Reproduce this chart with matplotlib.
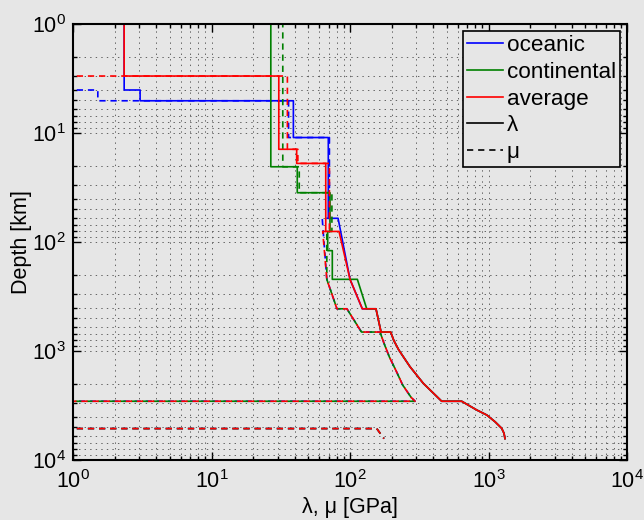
import numpy as np
import matplotlib
matplotlib.use('Agg')
import matplotlib.pyplot as plt
from matplotlib.lines import Line2D

plt.rcParams['font.family'] = ['Liberation Sans', 'DejaVu Sans']
plt.rcParams['mathtext.fontset'] = 'custom'
plt.rcParams['mathtext.rm'] = 'Liberation Sans'
plt.rcParams['lines.scale_dashes'] = False

# ---- data: depth [km] vs Lame parameters [GPa] ----
# shared deep structure (mantle + core)
deep_depth_lam = [220, 410, 410, 670, 670, 800, 979, 1393, 1979, 2891, 2891, 3477, 3865, 4454, 5119, 5689, 6371]
deep_lam = [100, 122.7, 154, 167.5, 196.7, 207, 225, 271, 338, 459, 640, 822, 971, 1114, 1245, 1294, 1315]
deep_depth_mu = [220, 410, 410, 670, 670, 850, 1128, 1517, 2051, 2660, 2891, 2891, 5150, 5150, 6371]
deep_mu = [68, 80.5, 95, 121, 164.7, 176, 192, 215, 240, 276, 295, 0, 0, 156, 176]

# oceanic
oce_depth_lam = [0, 4.03, 4.03, 5.06, 5.06, 11.0, 11.0, 60.6, 60.6]
oce_lam = [2.34, 2.34, 3.05, 3.05, 39, 39, 69.7, 69.7, 82]
oce_depth_mu = [0, 4.03, 4.03, 5.06, 5.06, 11.0, 11.0, 60.6, 60.6]
oce_mu = [0, 0, 1.51, 1.51, 36, 36, 71, 71, 63]

# continental
con_depth_lam = [0, 20.4, 20.4, 35.3, 35.3, 80, 80, 120, 120, 220, 220]
con_lam = [26.8, 26.8, 41.6, 41.6, 71.7, 71.7, 69, 69, 74.5, 74.5, 113]
con_depth_lam2 = [410, 410, 670, 670, 800, 979, 1393, 1979, 2891, 2891, 3477, 3865, 4454, 5119, 5689, 6371]
con_lam2 = [132, 154, 167.5, 196.7, 207, 225, 271, 338, 459, 640, 822, 971, 1114, 1245, 1294, 1315]
con_depth_mu = [0, 20.4, 20.4, 35.3, 35.3, 80, 80]
con_mu = [32.7, 32.7, 43, 43, 74, 74, 68]

# average
avg_depth_lam = [0, 3, 3, 14.1, 14.1, 19, 19, 80, 80]
avg_lam = [2.34, 2.34, 30.6, 30.6, 41.2, 41.2, 66.8, 66.8, 83.3]
avg_depth_mu = [0, 3, 3, 14.1, 14.1, 19, 19, 80, 80]
avg_mu = [0, 0, 35.3, 35.3, 42, 42, 71, 71, 63.5]

models = [
    ('oceanic', 'b', oce_lam + deep_lam, oce_depth_lam + deep_depth_lam,
     oce_mu + deep_mu, oce_depth_mu + deep_depth_mu),
    ('continental', (0, 0.5, 0), con_lam + con_lam2, con_depth_lam + con_depth_lam2,
     con_mu + deep_mu, con_depth_mu + deep_depth_mu),
    ('average', 'r', avg_lam + deep_lam, avg_depth_lam + deep_depth_lam,
     avg_mu + deep_mu, avg_depth_mu + deep_depth_mu),
]

bg = '#e6e6e6'
fig = plt.figure(figsize=(6.44, 5.2), dpi=100, facecolor=bg)
ax = fig.add_axes([0.1134, 0.1154, 0.8602, 0.8384], facecolor=bg)

for name, col, lam, dl, mu, dm in models:
    ax.plot(lam, dl, color=col, lw=1.2)
    ax.plot(mu, dm, color=col, lw=1.2, ls='--', dashes=(4.5, 3.5))

ax.set_xscale('log')
ax.set_yscale('log')
ax.set_xlim(1, 1e4)
ax.set_ylim(1e4, 1)

ax.grid(True, which='both', color='0.3', lw=0.6, ls=(0, (1, 3)))
ax.tick_params(which='both', direction='in', top=True, right=True, labelsize=15.5, width=1.0)
ax.tick_params(which='major', length=6)
ax.tick_params(which='minor', length=3)
ax.tick_params(axis='x', which='major', pad=7)
ax.tick_params(axis='y', which='major', pad=5)
for s in ax.spines.values():
    s.set_linewidth(1.5)

ax.set_xlabel('λ, μ [GPa]', fontsize=15.5, labelpad=3)
ax.set_ylabel('Depth [km]', fontsize=15.5, labelpad=0)

handles = [Line2D([], [], color='b', lw=1.2),
           Line2D([], [], color=(0, 0.5, 0), lw=1.2),
           Line2D([], [], color='r', lw=1.2),
           Line2D([], [], color='k', lw=1.2),
           Line2D([], [], color='k', lw=1.2, ls='--', dashes=(4.5, 3.5))]
labels = ['oceanic', 'continental', 'average', 'λ', 'μ']
leg = ax.legend(handles, labels, loc='upper right', fontsize=16.2, frameon=True,
                fancybox=False, edgecolor='k', facecolor=bg, framealpha=1,
                handlelength=1.6, handletextpad=0.15, labelspacing=0.25,
                borderpad=0.2, borderaxespad=0.3)
leg.get_frame().set_linewidth(1.2)

fig.savefig('out.png', dpi=100, facecolor=bg)
